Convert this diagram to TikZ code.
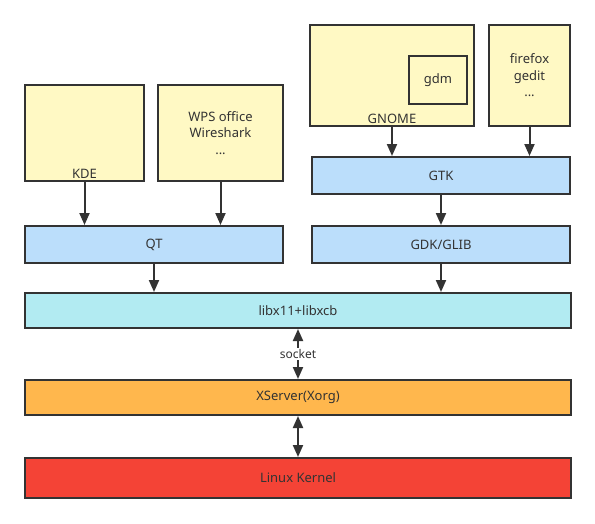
\documentclass[tikz,border=0pt]{standalone}
\usepackage{fontspec}
\setmainfont{Noto Sans}
\usetikzlibrary{arrows.meta}
\definecolor{edge}{HTML}{333333}
\definecolor{cyel}{HTML}{FFF9C4}
\definecolor{cblue}{HTML}{BBDEFB}
\definecolor{ccyan}{HTML}{B2EBF2}
\definecolor{corange}{HTML}{FFB74D}
\definecolor{cred}{HTML}{F44336}
\tikzset{
  box/.style={draw=edge, line width=2pt, inner sep=0pt, text=edge,
    font=\fontsize{13}{16.5}\selectfont, align=center},
  arr/.style={draw=edge, line width=2pt, -{Triangle[length=12pt,width=10pt]}},
  darr/.style={draw=edge, line width=2pt, {Triangle[length=12pt,width=10pt]}-{Triangle[length=12pt,width=10pt]}},
  btm/.style={anchor=south, inner sep=3pt, text=edge, font=\fontsize{13}{16.5}\selectfont},
}
\begin{document}
\begin{tikzpicture}[x=1pt,y=-1pt]
\useasboundingbox (0,0) rectangle (595,523);
% top application boxes
\node[box, fill=cyel, minimum width=119, minimum height=96] (kde) at (84.5,133) {};
\node[btm] (kdel) at (kde.south) {KDE};
\node[box, fill=cyel, minimum width=125, minimum height=96] (wps) at (220.5,133) {WPS office\\Wireshark\\...};
\node[box, fill=cyel, minimum width=164, minimum height=101] (gnome) at (392,75.5) {};
\node[btm] (gnomel) at (gnome.south) {GNOME};
\node[box, fill=cyel, minimum width=58, minimum height=48] (gdm) at (438,80) {gdm};
\node[box, fill=cyel, minimum width=81, minimum height=101] (ff) at (529.5,75.5) {firefox\\gedit\\...};
% toolkits
\node[box, fill=cblue, minimum width=258, minimum height=37] (qt) at (154,244.5) {QT};
\node[box, fill=cblue, minimum width=258, minimum height=37] (gtk) at (441,175.5) {GTK};
\node[box, fill=cblue, minimum width=258, minimum height=37] (gdk) at (441,244.5) {GDK/GLIB};
% layers
\node[box, fill=ccyan, minimum width=546, minimum height=35] (x11) at (298,310.5) {libx11+libxcb};
\node[box, fill=corange, minimum width=546, minimum height=35] (xs) at (298,397.5) {XServer(Xorg)};
\node[box, fill=cred, minimum width=546, minimum height=40] (kern) at (298,478) {Linux Kernel};
% connectors
\draw[arr] (kde.south) -- (kde.south |- qt.north);
\draw[arr] (wps.south) -- (wps.south |- qt.north);
\draw[arr] (gnome.south) -- (gnome.south |- gtk.north);
\draw[arr] (ff.south) -- (ff.south |- gtk.north);
\draw[arr] (gtk.south) -- (gdk.north);
\draw[arr] (qt.south) -- (qt.south |- x11.north);
\draw[arr] (gdk.south) -- (gdk.south |- x11.north);
\draw[darr] (x11.south) -- node[fill=white, inner sep=1pt, text=edge, font=\fontsize{12}{14}\selectfont] {socket} (xs.north);
\draw[darr] (xs.south) -- (kern.north);
\end{tikzpicture}
\end{document}
